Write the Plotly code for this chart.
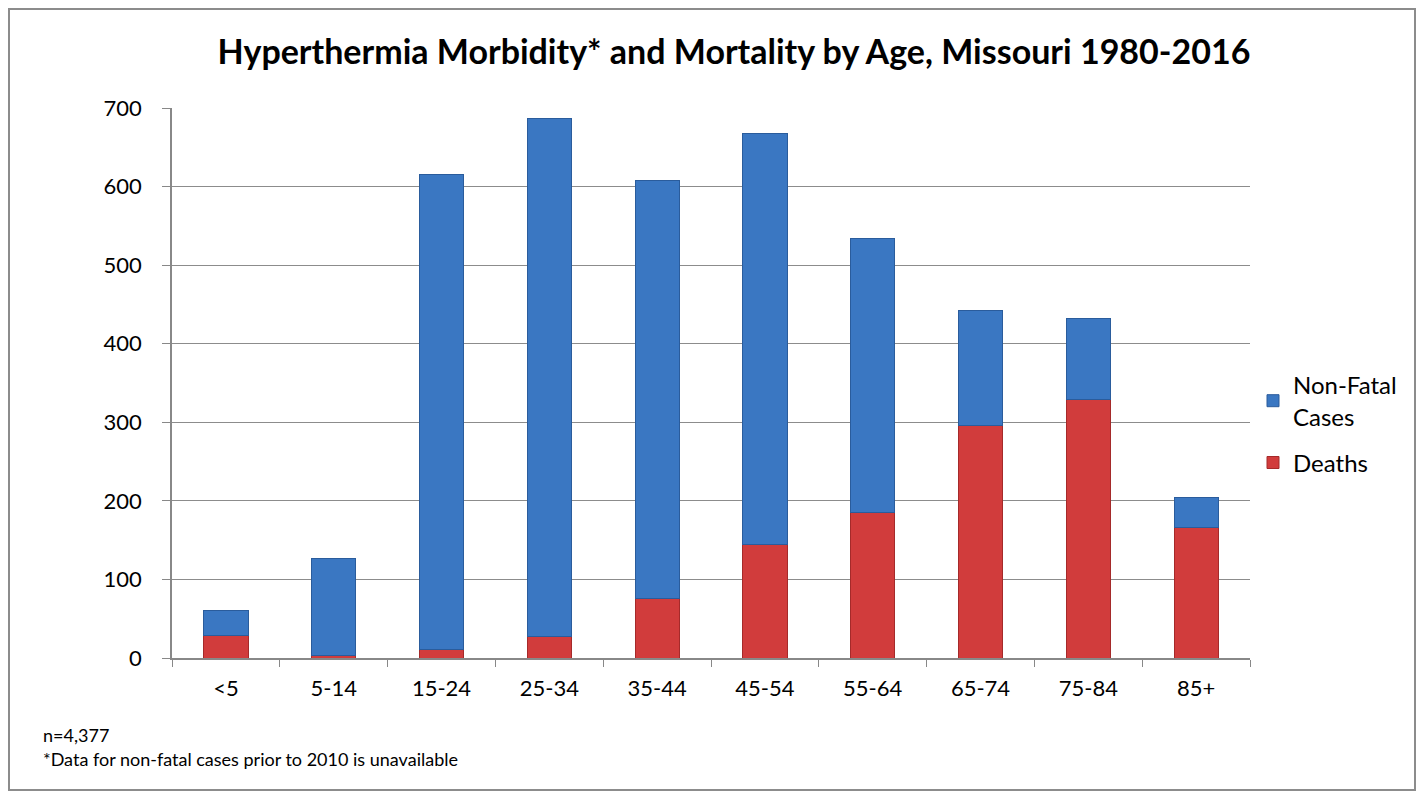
import plotly.graph_objects as go

# Data
age_groups = ["<5", "5-14", "15-24", "25-34", "35-44", "45-54", "55-64", "65-74", "75-84", "85+"]
deaths = [29, 3, 11, 27, 76, 145, 185, 296, 329, 166]
non_fatal = [31, 124, 604, 660, 532, 523, 349, 146, 103, 38]
y_ticks = [0, 100, 200, 300, 400, 500, 600, 700]

font_family = "Lato, 'Open Sans', sans-serif"

# page body has an 8px margin, so the figure is 16px smaller than the window
W, H = 1408, 783
L, R, T, B = 164, 166, 100, 133
pw, ph = W - L - R, H - T - B


def px(x):
    return (x - L) / pw


def py(y):
    return (H - B - y) / ph


fig = go.Figure()

fig.add_trace(go.Bar(
    x=age_groups,
    y=deaths,
    name="Deaths",
    legendgroup="d",
    legendrank=2,
    marker=dict(color="#D13C3C", line=dict(color="#A52A2A", width=1)),
    width=0.41,
))

fig.add_trace(go.Bar(
    x=age_groups,
    y=non_fatal,
    name="Non-Fatal<br>Cases",
    legendgroup="n",
    legendrank=1,
    marker=dict(color="#3A77C2", line=dict(color="#2A5C9C", width=1)),
    width=0.41,
))

fig.update_layout(
    barmode="stack",
    width=W,
    height=H,
    margin=dict(l=L, r=R, t=T, b=B),
    paper_bgcolor="white",
    plot_bgcolor="white",
    font=dict(family=font_family, size=22, color="black"),
    title=dict(
        text="<b>Hyperthermia Morbidity* and Mortality by Age, Missouri 1980-2016</b>",
        x=(726) / W, xanchor="center",
        y=1 - 44 / H, yanchor="middle",
        font=dict(size=34, family=font_family),
    ),
    xaxis=dict(
        showline=True, linecolor="#888888", linewidth=1.5,
        ticks="outside", tickson="boundaries", ticklen=7, tickcolor="#888888",
        tickfont=dict(size=22), ticklabelstandoff=10,
    ),
    yaxis=dict(
        range=[0, 700], tickvals=y_ticks,
        showgrid=True, gridcolor="#8C8C8C", gridwidth=1.3,
        showline=True, linecolor="#888888", linewidth=1.5,
        ticks="outside", ticklen=8, tickcolor="#888888",
        tickfont=dict(size=22), ticklabelstandoff=16,
        zeroline=False,
    ),
    legend=dict(
        x=px(1245), y=py(355), xanchor="left", yanchor="top",
        traceorder="grouped",
        font=dict(size=24),
        itemwidth=30,
        tracegroupgap=12,
    ),
)

fig.add_annotation(text="n=4,377", xref="paper", yref="paper",
                   x=px(33), y=py(727),
                   xanchor="left", yanchor="middle", showarrow=False,
                   font=dict(size=18))
fig.add_annotation(text="*Data for non-fatal cases prior to 2010 is unavailable",
                   xref="paper", yref="paper",
                   x=px(33), y=py(751),
                   xanchor="left", yanchor="middle", showarrow=False,
                   font=dict(size=18))

# outer frame
fig.add_shape(type="rect", xref="paper", yref="paper",
              x0=px(1), x1=px(W - 1),
              y0=py(H - 1), y1=py(1),
              line=dict(color="#8C8C8C", width=2))

fig.write_html("out.html")
